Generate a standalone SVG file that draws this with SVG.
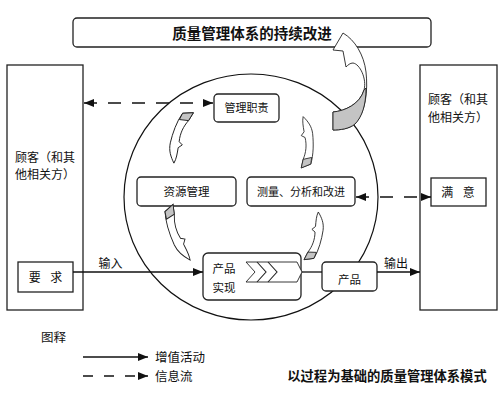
<svg xmlns="http://www.w3.org/2000/svg" width="503" height="412" viewBox="0 0 503 412">
<defs>
<style>
.box{fill:#fff;stroke:#222;stroke-width:1.3}
.t{font-family:"Noto Sans CJK SC","Noto Sans",sans-serif;fill:#111}
.ln{fill:none;stroke:#111;stroke-width:1.3}
.dash{stroke-dasharray:13,11}
.sa{fill:#fff;stroke:#222;stroke-width:0.9}
.gr{fill:#c4c4c4;stroke:#222;stroke-width:0.9}
</style>
<marker id="ah" viewBox="0 0 10 8" refX="10" refY="4" markerWidth="10" markerHeight="8" markerUnits="userSpaceOnUse" orient="auto-start-reverse">
<path d="M0,0 L10,4 L0,8 Z" fill="#111"/>
</marker>
<g id="small-arrow">
<path class="sa" d="M-5,2 L5,-2 L3,7 C0,14 -1,22 1,30 L5,32 L2,36 C3,42 4,47 3,52 C-2,47 -6,42 -7,34 C-8,24 -8,12 -5,2 Z"/>
<path class="gr" d="M-5,2 L5,-2 L3,7 L-6,9 Z"/>
</g>
</defs>
<rect width="503" height="412" fill="#fff"/>

<g id="title">
<rect class="box" x="73" y="18" width="358" height="29" rx="4"/>
<text class="t" x="252" y="39" font-size="14.5" font-weight="bold" text-anchor="middle">质量管理体系的持续改进</text>
</g>

<g id="cycle">
<ellipse cx="251" cy="197" rx="127" ry="123" fill="none" stroke="#111" stroke-width="1.2"/>
</g>

<g id="customer-left">
<rect class="box" x="7" y="65" width="76" height="245"/>
<text class="t" x="45" y="162" font-size="12" text-anchor="middle">顾客（和其</text>
<text class="t" x="45" y="179" font-size="12" text-anchor="middle">他相关方）</text>
</g>
<g id="requirements">
<rect class="box" x="18" y="262" width="55" height="30"/>
<text class="t" x="45.5" y="281.5" font-size="12" text-anchor="middle" word-spacing="7">要 求</text>
</g>

<g id="customer-right">
<rect class="box" x="420" y="65" width="77" height="245"/>
<text class="t" x="458" y="104" font-size="12" text-anchor="middle">顾客（和其</text>
<text class="t" x="458" y="122" font-size="12" text-anchor="middle">他相关方）</text>
</g>
<g id="satisfaction">
<rect class="box" x="431" y="178" width="55" height="28"/>
<text class="t" x="458" y="197" font-size="12" text-anchor="middle" word-spacing="7">满 意</text>
</g>

<g id="mgmt">
<rect class="box" x="214" y="94" width="65" height="28" rx="4"/>
<text class="t" x="246.5" y="112" font-size="11" text-anchor="middle">管理职责</text>
</g>
<g id="resource">
<rect class="box" x="137" y="177" width="99" height="29" rx="4"/>
<text class="t" x="186.5" y="195.5" font-size="11.5" text-anchor="middle">资源管理</text>
</g>
<g id="measure">
<rect class="box" x="247" y="177" width="108" height="29" rx="4"/>
<text class="t" x="301" y="195.5" font-size="11" text-anchor="middle">测量、分析和改进</text>
</g>
<g id="realization">
<rect class="box" x="203" y="253" width="98" height="47" rx="5"/>
<text class="t" x="224" y="273" font-size="11.5" text-anchor="middle">产品</text>
<text class="t" x="224" y="292" font-size="11.5" text-anchor="middle">实现</text>
<path class="sa" d="M246,262 L297,262 L302,272 L297,282 L246,282 L255,272 Z" stroke-width="1.1"/>
<path d="M257,262 L266,272 L257,282 M268,262 L277,272 L268,282" fill="none" stroke="#222" stroke-width="1.1"/>
</g>
<g id="product">
<rect class="box" x="322" y="262" width="55" height="29" rx="4"/>
<text class="t" x="349.5" y="283.5" font-size="11.5" text-anchor="middle">产品</text>
</g>

<g id="connectors">
<line class="ln dash" x1="84" y1="103" x2="213" y2="103" marker-start="url(#ah)" marker-end="url(#ah)"/>
<line class="ln dash" x1="356" y1="197" x2="431" y2="197" marker-start="url(#ah)" marker-end="url(#ah)"/>
<line class="ln" x1="73" y1="272" x2="203" y2="272" marker-end="url(#ah)"/>
<line class="ln" x1="302" y1="272" x2="322" y2="272"/>
<line class="ln" x1="377" y1="272" x2="420" y2="272" marker-end="url(#ah)"/>
<text class="t" x="110.5" y="268" font-size="12" text-anchor="middle">输入</text>
<text class="t" x="396" y="268" font-size="12" text-anchor="middle">输出</text>
</g>

<g id="flow-arrows">
<use href="#small-arrow" transform="translate(188,113) rotate(19)"/>
<use href="#small-arrow" transform="translate(169,208) rotate(-19) scale(1,1.08)"/>
<use href="#small-arrow" transform="translate(306,166) rotate(180) scale(0.95)"/>
<use href="#small-arrow" transform="translate(309,259) rotate(194.5) scale(0.92)"/>
</g>

<g id="improvement-arrow">
<path class="sa" stroke-width="1.1" d="M333,112 C345,111 360,104 364,90 C367,79 360,64 353,63 C350,63 348,65 346,67 L343,51 L333,50 L343,33 C355,40 364,55 366,72 C368,90 366,112 355,124 C349,129 340,130 333,130 Z"/>
<path class="gr" stroke-width="1.1" d="M333,112 C345,111 360,104 364,90 L366,88 C366,105 362,117 355,124 C349,129 340,130 333,130 Z"/>
</g>

<g id="legend">
<text class="t" x="53.5" y="342" font-size="12.5" text-anchor="middle">图释</text>
<line class="ln" x1="83" y1="357" x2="148" y2="357" marker-end="url(#ah)"/>
<line class="ln" x1="83" y1="376" x2="148" y2="376" stroke-dasharray="10,11" marker-end="url(#ah)"/>
<text class="t" x="155" y="361.5" font-size="12.5">增值活动</text>
<text class="t" x="155" y="380.5" font-size="12.5">信息流</text>
</g>

<g id="caption">
<text class="t" x="387" y="380.5" font-size="13.3" font-weight="bold" text-anchor="middle">以过程为基础的质量管理体系模式</text>
</g>
</svg>
